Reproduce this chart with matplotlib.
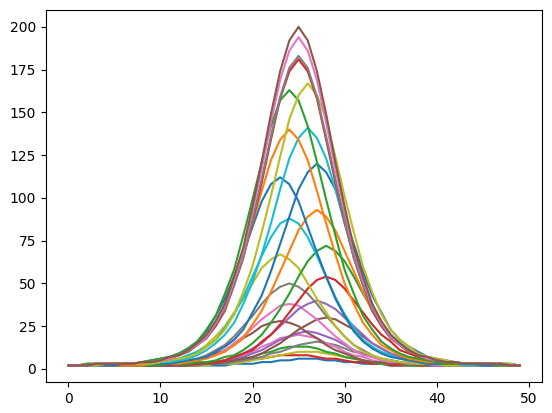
import matplotlib
matplotlib.use("Agg")
import matplotlib.pyplot as plt

x = list(range(50))

s_brown_198 = [2,2,2,3,3,3,3,3,4,4,5,7,8,11,15,20,28,38,54,71,95,121,149,174,192,200,192,174,149,121,95,71,54,38,28,20,15,11,8,7,5,4,4,3,3,3,3,3,2,2]
s_pink_194 = [2,2,2,3,3,3,3,3,4,4,5,6,8,11,14,19,27,37,52,69,92,117,144,169,186,194,186,169,144,117,92,69,52,37,27,19,14,11,8,6,5,4,4,3,3,3,3,3,2,2]
s_grey_183 = [2,2,2,3,3,3,3,3,4,4,5,6,8,10,14,18,26,35,49,65,87,111,136,159,176,183,176,159,136,111,87,65,49,35,26,18,14,10,8,6,5,4,4,3,3,3,3,3,2,2]
s_red_181 = [2,2,2,3,3,3,3,3,4,4,5,6,8,10,14,18,25,34,49,65,86,109,134,158,174,181,174,158,134,109,86,65,49,34,25,18,14,10,8,6,5,4,4,3,3,3,3,3,2,2]
s_olive_167 = [2,2,2,2,3,3,3,3,3,3,4,5,6,7,9,13,17,23,32,45,60,80,101,124,146,160,167,160,146,124,101,80,60,45,32,23,17,13,9,7,6,5,4,3,3,3,3,3,3,2]
s_green_163 = [2,2,3,3,3,3,3,3,4,5,6,7,9,12,16,23,31,44,58,78,99,121,142,157,163,157,142,121,99,78,58,44,31,23,16,12,9,7,6,5,4,3,3,3,3,3,3,2,2,2]
s_orange_140 = [2,2,3,3,3,3,3,3,4,4,5,6,8,11,14,20,27,38,50,67,85,104,122,134,140,134,122,104,85,67,50,38,27,20,14,11,8,6,5,4,4,3,3,3,3,3,3,2,2,2]
s_cyan_141 = [2,2,2,2,3,3,3,3,3,3,4,4,5,6,8,11,15,20,27,38,51,67,85,105,123,135,141,135,123,105,85,67,51,38,27,20,15,11,8,6,5,4,4,3,3,3,3,3,3,2]
s_blue_120 = [2,2,2,2,2,2,3,3,3,3,3,3,4,5,6,7,10,13,17,23,33,43,57,73,89,105,115,120,115,105,89,73,57,43,33,23,17,13,10,7,6,5,4,3,3,3,3,3,3,2]
s_blue_112 = [2,2,3,3,3,3,3,3,4,5,6,7,9,12,16,22,31,41,54,68,83,98,108,112,108,98,83,68,54,41,31,22,16,12,9,7,6,5,4,3,3,3,3,3,3,2,2,2,2,2]
s_orange_93 = [2,2,2,2,2,2,2,2,2,3,3,3,3,4,5,6,8,10,14,18,26,34,45,57,69,81,89,93,89,81,69,57,45,34,26,18,14,10,8,6,5,4,3,3,3,3,2,2,2,2]
s_cyan_88 = [2,2,2,2,2,2,3,3,3,3,4,5,6,8,10,13,17,24,32,42,54,66,77,85,88,85,77,66,54,42,32,24,17,13,10,8,6,5,4,3,3,3,3,2,2,2,2,2,2,2]
s_green_72 = [2,2,2,2,2,2,2,2,2,2,2,3,3,3,4,4,5,7,8,11,15,20,27,35,44,54,63,69,72,69,63,54,44,35,27,20,15,11,8,7,5,4,4,3,3,3,2,2,2,2]
s_olive_67 = [2,2,2,2,2,2,3,3,3,4,4,5,6,8,10,14,19,25,33,41,50,59,64,67,64,59,50,41,33,25,19,14,10,8,6,5,4,4,3,3,3,2,2,2,2,2,2,2,2,2]
s_red_54 = [2,2,2,2,2,2,2,2,2,2,2,2,3,3,3,4,4,5,7,9,11,16,20,26,33,40,47,52,54,52,47,40,33,26,20,16,11,9,7,5,4,4,3,3,3,2,2,2,2,2]
s_grey_50 = [2,2,2,2,2,2,2,2,3,3,3,4,4,5,6,8,11,14,19,25,31,38,44,48,50,48,44,38,31,25,19,14,11,8,6,5,4,4,3,3,3,2,2,2,2,2,2,2,2,2]
s_purple_40 = [2,2,2,2,2,2,2,2,2,2,2,2,3,3,3,4,4,5,7,9,12,15,20,25,30,35,38,40,38,35,30,25,20,15,12,9,7,5,4,4,3,3,3,2,2,2,2,2,2,2]
s_pink_38 = [2,2,2,2,2,2,2,2,2,3,3,3,4,4,5,7,8,11,15,19,24,29,33,37,38,37,33,29,24,19,15,11,8,7,5,4,4,3,3,3,2,2,2,2,2,2,2,2,2,2]
s_brown_30 = [2,2,2,2,2,2,2,2,2,2,2,2,2,2,3,3,3,4,5,6,7,9,12,15,19,23,26,29,30,29,26,23,19,15,12,9,7,6,5,4,3,3,3,2,2,2,2,2,2,2]
s_brown_28 = [2,2,2,2,2,2,2,2,2,3,3,3,4,4,5,7,9,11,14,18,21,25,27,28,27,25,21,18,14,11,9,7,5,4,4,3,3,3,2,2,2,2,2,2,2,2,2,2,2,2]
s_purple_22 = [2,2,2,2,2,2,2,2,2,2,2,2,2,3,3,3,4,5,6,7,9,11,14,17,19,21,22,21,19,17,14,11,9,7,6,5,4,3,3,3,2,2,2,2,2,2,2,2,2,2]
s_pink_20 = [2,2,2,2,2,2,2,2,2,2,2,2,3,3,3,4,4,5,7,8,10,13,15,18,19,20,19,18,15,13,10,8,7,5,4,4,3,3,3,2,2,2,2,2,2,2,2,2,2,2]
s_grey_16 = [2,2,2,2,2,2,2,2,2,2,2,2,2,2,2,3,3,3,4,5,6,7,9,10,12,14,15,16,15,14,12,10,9,7,6,5,4,3,3,3,2,2,2,2,2,2,2,2,2,2]
s_green_13 = [2,2,2,2,2,2,2,2,2,2,2,2,2,2,3,3,3,4,5,6,7,9,10,12,13,13,13,12,10,9,7,6,5,4,3,3,3,2,2,2,2,2,2,2,2,2,2,2,2,2]
s_olive_10 = [2,2,2,2,2,2,2,2,2,2,2,2,2,2,2,2,3,3,3,4,5,6,7,8,9,10,10,10,9,8,7,6,5,4,3,3,3,2,2,2,2,2,2,2,2,2,2,2,2,2]
s_red_8 = [2,2,2,2,2,2,2,2,2,2,2,2,2,2,2,3,3,4,4,5,6,6,7,8,8,8,8,7,6,6,5,4,4,3,3,2,2,2,2,2,2,2,2,2,2,2,2,2,2,2]
s_blue_6 = [2,2,2,2,2,2,2,2,2,2,2,2,2,2,2,2,2,2,3,3,3,4,4,5,5,6,6,6,5,5,4,4,3,3,3,2,2,2,2,2,2,2,2,2,2,2,2,2,2,2]

series = [
    (s_blue_6, '#1f77b4'), (s_red_8, '#d62728'), (s_olive_10, '#bcbd22'),
    (s_green_13, '#2ca02c'), (s_grey_16, '#7f7f7f'), (s_pink_20, '#e377c2'),
    (s_purple_22, '#9467bd'), (s_brown_28, '#8c564b'), (s_brown_30, '#8c564b'),
    (s_pink_38, '#e377c2'), (s_purple_40, '#9467bd'), (s_grey_50, '#7f7f7f'),
    (s_red_54, '#d62728'), (s_olive_67, '#bcbd22'), (s_green_72, '#2ca02c'),
    (s_cyan_88, '#17becf'), (s_orange_93, '#ff7f0e'), (s_blue_112, '#1f77b4'),
    (s_blue_120, '#1f77b4'), (s_cyan_141, '#17becf'), (s_orange_140, '#ff7f0e'),
    (s_green_163, '#2ca02c'), (s_olive_167, '#bcbd22'), (s_red_181, '#d62728'),
    (s_grey_183, '#7f7f7f'), (s_pink_194, '#e377c2'), (s_brown_198, '#8c564b'),
]

fig, ax = plt.subplots(figsize=(5.52, 4.13), dpi=100)
fig.subplots_adjust(left=0.083, right=0.982, top=0.976, bottom=0.074)
for ys, c in series:
    ax.plot(x, ys, color=c)
ax.set_yticks(range(0, 201, 25))
fig.savefig("out.png", dpi=100)
